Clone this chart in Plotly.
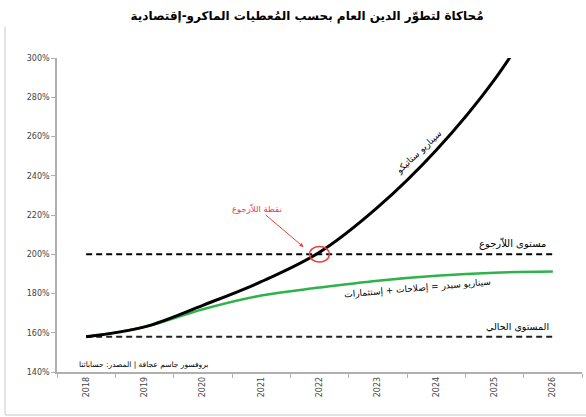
import plotly.graph_objects as go

years = ["2018", "2019", "2020", "2021", "2022", "2023", "2024", "2025", "2026"]
static_scenario = [158, 163, 174, 186, 201, 224, 253, 289, 335]
cedre_scenario = [158, 163, 172, 179, 183, 186.5, 189, 190.6, 191.2]
return_level = [200] * len(years)
current_level = [158] * len(years)
y_ticks = [140, 160, 180, 200, 220, 240, 260, 280, 300]
y_tick_labels = [f"{v}%" for v in y_ticks]

FONT = "DejaVu Sans"

fig = go.Figure()
fig.add_trace(go.Scatter(x=years, y=return_level, mode="lines",
                         line=dict(color="black", width=2, dash="6px,4px"), showlegend=False))
fig.add_trace(go.Scatter(x=years, y=current_level, mode="lines",
                         line=dict(color="#222", width=2, dash="6px,4px"), showlegend=False))
fig.add_trace(go.Scatter(x=years, y=cedre_scenario, mode="lines",
                         line=dict(color="#2db34a", width=2.5, shape="spline"), showlegend=False))
fig.add_trace(go.Scatter(x=years, y=static_scenario, mode="lines",
                         line=dict(color="black", width=3, shape="spline"), showlegend=False))

def xi(px):
    return (px - 87) / 58.25

def yv(py):
    return 140 + (372 - py) / 1.9625

annotations = [
    dict(x=xi(419), y=yv(152), text="سيناريو ستاتيكو", textangle=-43,
         font=dict(size=9, color="black")),
    dict(x=xi(418), y=yv(288), text="سيناريو سيدر = إصلاحات + إستثمارات", textangle=-5,
         font=dict(size=9, color="black")),
    dict(x=xi(513), y=yv(243), text="مستوى اللاّرجوع", font=dict(size=10, color="black")),
    dict(x=xi(518), y=yv(326), text="المستوى الحالي", font=dict(size=9.5, color="black")),
    dict(x=xi(144), y=yv(364), text="بروفسور جاسم عجاقة | المصدر: حساباتنا",
         font=dict(size=7.5, color="black")),
    dict(x=xi(304), y=yv(247), text="نقطة اللاّرجوع", showarrow=True, ax=-46, ay=-39,
         arrowcolor="#e8413a", arrowwidth=1, arrowhead=2, arrowsize=0.8,
         font=dict(size=8.5, color="#e8413a")),
]
for a in annotations:
    a.setdefault("showarrow", False)
    a.update(xref="x", yref="y")

fig.update_layout(
    width=586, height=417,
    margin=dict(l=57, r=4, t=58, b=45),
    paper_bgcolor="white", plot_bgcolor="white",
    font=dict(family=FONT, color="#333"),
    title=dict(text="<b>مُحاكاة لتطوّر الدين العام بحسب المُعطيات الماكرو-إقتصادية</b>",
               x=0.524, xanchor="center", y=0.963, yanchor="middle",
               font=dict(size=12, color="black", family=FONT)),
    annotations=annotations,
    shapes=[
        dict(type="circle", xref="x", yref="y", x0=4 - 0.17, x1=4 + 0.17, y0=196, y1=204,
             line=dict(color="#e8413a", width=1.5)),
        dict(type="line", xref="paper", yref="paper", x0=-0.099, x1=-0.099, y0=-0.137, y1=1.1,
             line=dict(color="#c8c8c8", width=1)),
        dict(type="line", xref="paper", yref="paper", x0=-0.099, x1=1.01, y0=-0.137, y1=-0.137,
             line=dict(color="#c8c8c8", width=1)),
    ],
    xaxis=dict(type="category", range=[-0.5, 8.5], showgrid=False, showline=True,
               linecolor="#b0b0b0", linewidth=1.5, ticks="outside", tickson="boundaries",
               ticklen=4, tickcolor="#b0b0b0", tickangle=-90,
               tickfont=dict(size=8, color="#444")),
    yaxis=dict(range=[140, 300], tickvals=y_ticks, ticktext=y_tick_labels, showgrid=False,
               zeroline=False, showline=True, linecolor="#b0b0b0", linewidth=1.5,
               ticks="outside", ticklen=4, tickcolor="#b0b0b0",
               tickfont=dict(size=8, color="#444")),
)

fig.write_html("out.html")
